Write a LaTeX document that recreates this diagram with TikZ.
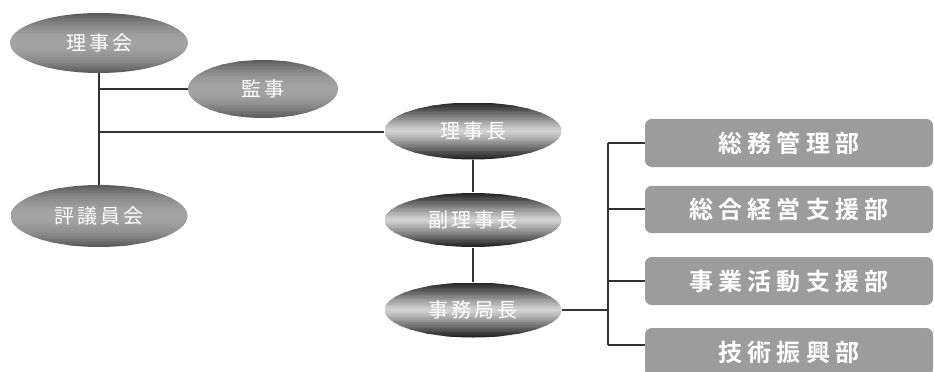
\documentclass[tikz,border=0pt]{standalone}
\usepackage{fontspec}
\newfontfamily\jp[LetterSpace=15]{Noto Sans CJK JP}
\newfontfamily\jpb[LetterSpace=22]{Noto Sans CJK JP Bold}
\usetikzlibrary{shapes.geometric,calc}
\pgfdeclarelayer{background}
\pgfsetlayers{background,main}
\definecolor{linec}{HTML}{333333}
\definecolor{boxc}{HTML}{9C9C9C}
% banded vertical gradient inside an oval node: name, x radius, y radius (px), edge darkness, middle darkness, exponent
\newcommand\ovalfill[6]{%
\begin{pgfonlayer}{background}
\begin{scope}
\clip (#1.center) ellipse [x radius=#2, y radius=#3];
\foreach \i in {0,...,39}{
 \pgfmathsetmacro\ovt{abs((\i+0.5)/20-1)}
 \pgfmathsetmacro\ovd{#5+(#4-#5)*(\ovt^#6)}
 \fill[black!\ovd] ($(#1.center)+(-#2,{-#3+2*#3*\i/40})$) rectangle ($(#1.center)+(#2,{-#3+2*#3*(\i+1)/40+0.4})$);
}
\end{scope}
\end{pgfonlayer}}
\begin{document}
\begin{tikzpicture}[x=0.75pt,y=-0.75pt,
  conn/.style={draw=linec,line width=0.8pt},
  oval/.style={ellipse,inner sep=0pt,text=white,
     font=\jp\fontsize{15}{17}\selectfont},
  deptbox/.style={rectangle,rounded corners=5pt,fill=boxc,text=white,
     inner sep=0pt,minimum width=216pt,
     font=\jpb\fontsize{18}{20}\selectfont}]
\path[use as bounding box,clip] (0,0) rectangle (934,371);
% left group
\node[oval,minimum width=133.5pt,minimum height=45pt] (rijikai) at (99,43) {理事会};
\node[oval,minimum width=112.5pt,minimum height=43.5pt] (kanji) at (263,89) {監事};
\node[oval,minimum width=133pt,minimum height=46pt] (hyogi) at (99,216) {評議員会};
\ovalfill{rijikai}{89}{30}{66}{36}{2}
\ovalfill{kanji}{75}{29}{66}{36}{2}
\ovalfill{hyogi}{88.5}{31}{66}{36}{2}
% center column
\node[oval,minimum width=133pt,minimum height=43pt] (richo) at (473,131) {理事長};
\node[oval,minimum width=133pt,minimum height=41pt] (fuku) at (473,220) {副理事長};
\node[oval,minimum width=133pt,minimum height=41pt] (jimu) at (473,310) {事務局長};
\ovalfill{richo}{88.5}{28.5}{88}{16}{1.1}
\ovalfill{fuku}{88.5}{27}{88}{16}{1.1}
\ovalfill{jimu}{88.5}{27.5}{88}{16}{1.1}
% departments
\node[deptbox,minimum height=36pt] (d1) at (789,143) {総務管理部};
\node[deptbox,minimum height=35.5pt] (d2) at (789,209.5) {総合経営支援部};
\node[deptbox,minimum height=36pt] (d3) at (789,281) {事業活動支援部};
\node[deptbox,minimum height=36pt] (d4) at (789,352) {技術振興部};
% connectors
\coordinate (k1) at (100,89);
\coordinate (k2) at (100,132);
\draw[conn] (rijikai.south) -- (hyogi.north);
\draw[conn] (k1) -- (k1 -| kanji.west);
\draw[conn] (k2) -- (k2 -| richo.west);
\draw[conn] (richo.south) -- (fuku.north);
\draw[conn] (fuku.south) -- (jimu.north);
\coordinate (b0) at (608,310);
\coordinate (b1) at (608,143);
\coordinate (b2) at (608,209);
\coordinate (b3) at (608,281);
\coordinate (b4) at (608,345);
\draw[conn] (jimu.east) -- (b0);
\draw[conn] (b1) -- (b4);
\draw[conn] (b1) -- (b1 -| d1.west);
\draw[conn] (b2) -- (b2 -| d2.west);
\draw[conn] (b3) -- (b3 -| d3.west);
\draw[conn] (b4) -- (b4 -| d4.west);
\end{tikzpicture}
\end{document}
